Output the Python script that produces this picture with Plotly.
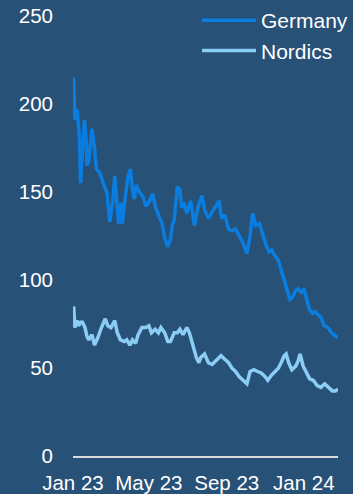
import plotly.graph_objects as go

germany_dates = [
    "2023-01-02", "2023-01-04", "2023-01-07", "2023-01-08", "2023-01-11", "2023-01-13",
    "2023-01-16", "2023-01-19", "2023-01-22", "2023-01-23", "2023-01-26", "2023-01-31",
    "2023-02-04", "2023-02-07", "2023-02-12", "2023-02-15", "2023-02-19", "2023-02-24",
    "2023-02-28", "2023-03-05", "2023-03-08", "2023-03-11", "2023-03-14", "2023-03-18",
    "2023-03-20", "2023-03-24", "2023-03-29", "2023-04-02", "2023-04-05", "2023-04-08",
    "2023-04-11", "2023-04-16", "2023-04-22", "2023-04-26", "2023-05-01", "2023-05-07",
    "2023-05-11", "2023-05-16", "2023-05-22", "2023-05-26", "2023-05-31", "2023-06-04",
    "2023-06-07", "2023-06-10", "2023-06-15", "2023-06-19", "2023-06-22", "2023-06-25",
    "2023-06-30", "2023-07-06", "2023-07-12", "2023-07-18", "2023-07-24", "2023-07-28",
    "2023-08-03", "2023-08-08", "2023-08-14", "2023-08-20", "2023-08-24", "2023-08-29",
    "2023-09-04", "2023-09-09", "2023-09-15", "2023-09-21", "2023-09-27", "2023-10-03",
    "2023-10-08", "2023-10-12", "2023-10-17", "2023-10-23", "2023-10-27", "2023-11-02",
    "2023-11-07", "2023-11-11", "2023-11-16", "2023-11-22", "2023-11-26", "2023-12-01",
    "2023-12-05", "2023-12-10", "2023-12-14", "2023-12-19", "2023-12-23", "2023-12-28",
    "2024-01-01", "2024-01-06", "2024-01-10", "2024-01-15", "2024-01-19", "2024-01-24",
    "2024-01-28", "2024-02-02", "2024-02-08", "2024-02-14", "2024-02-20", "2024-02-24",
]
germany_values = [
    215, 191, 197, 195, 182, 155,
    174, 191, 179, 165, 168, 186,
    175, 163, 161, 158, 153, 149,
    133, 145, 159, 145, 132, 144,
    132, 145, 159, 163, 151, 146,
    154, 150, 147, 142, 144, 149,
    142, 137, 132, 124, 119, 123,
    131, 134, 153, 151, 141, 144,
    138, 145, 131, 142, 148, 140,
    135, 138, 142, 145, 135, 137,
    129, 128, 129, 125, 121, 115,
    125, 138, 131, 132, 127, 120,
    116, 117, 114, 111, 106, 100,
    96, 89, 90, 94, 95, 93,
    95, 89, 83, 81, 82, 80,
    79, 74, 73, 70, 68, 67,
]

nordics_dates = [
    "2023-01-02", "2023-01-04", "2023-01-07", "2023-01-10", "2023-01-13", "2023-01-16",
    "2023-01-20", "2023-01-23", "2023-01-26", "2023-01-31", "2023-02-04", "2023-02-09",
    "2023-02-15", "2023-02-21", "2023-02-25", "2023-03-02", "2023-03-08", "2023-03-12",
    "2023-03-17", "2023-03-23", "2023-03-27", "2023-04-01", "2023-04-05", "2023-04-10",
    "2023-04-14", "2023-04-20", "2023-04-26", "2023-05-01", "2023-05-05", "2023-05-11",
    "2023-05-16", "2023-05-20", "2023-05-26", "2023-05-31", "2023-06-04", "2023-06-10",
    "2023-06-15", "2023-06-19", "2023-06-24", "2023-06-30", "2023-07-04", "2023-07-09",
    "2023-07-12", "2023-07-15", "2023-07-19", "2023-07-22", "2023-07-28", "2023-08-03",
    "2023-08-09", "2023-08-15", "2023-08-23", "2023-08-29", "2023-09-04", "2023-09-09",
    "2023-09-15", "2023-09-21", "2023-09-27", "2023-10-03", "2023-10-08", "2023-10-14",
    "2023-10-20", "2023-10-26", "2023-11-01", "2023-11-05", "2023-11-11", "2023-11-17",
    "2023-11-22", "2023-11-26", "2023-12-01", "2023-12-04", "2023-12-08", "2023-12-13",
    "2023-12-19", "2023-12-23", "2023-12-26", "2023-12-31", "2024-01-04", "2024-01-10",
    "2024-01-16", "2024-01-22", "2024-01-28", "2024-02-03", "2024-02-09", "2024-02-15",
    "2024-02-20", "2024-02-24",
]
nordics_values = [
    85, 73, 77, 74, 76, 76,
    73, 68, 66, 69, 63, 67,
    73, 78, 74, 73, 77, 70,
    66, 65, 66, 63, 66, 64,
    69, 73, 73, 74, 70, 72,
    70, 73, 70, 65, 65, 70,
    70, 72, 69, 73, 70, 63,
    59, 56, 53, 56, 58, 53,
    52, 54, 57, 55, 53, 50,
    48, 45, 43, 41, 48, 49,
    48, 47, 45, 43, 46, 48,
    50, 53, 57, 58, 53, 49,
    51, 54, 58, 51, 48, 44,
    43, 40, 39, 41, 39, 37,
    37, 38,
]

tick_dates = ["2023-01-01", "2023-05-01", "2023-09-01", "2024-01-01"]
tick_labels = ["Jan 23", "May 23", "Sep 23", "Jan 24"]
y_ticks = [0, 50, 100, 150, 200, 250]

BG = "#285177"
FONT = "Liberation Sans, Arial, sans-serif"

fig = go.Figure()
fig.add_trace(go.Scatter(x=germany_dates, y=germany_values, mode="lines", name="Germany",
                         line=dict(color="#0a7de0", width=3.5)))
fig.add_trace(go.Scatter(x=nordics_dates, y=nordics_values, mode="lines", name="Nordics",
                         line=dict(color="#8ccdf5", width=3.5)))

fig.update_layout(
    width=353, height=494,
    margin=dict(l=73, r=0, t=16, b=38),
    paper_bgcolor=BG, plot_bgcolor=BG,
    font=dict(family=FONT, size=20, color="#ffffff"),
    showlegend=True,
    legend=dict(x=0.468, y=1.037, xanchor="left", yanchor="top",
                bgcolor="rgba(0,0,0,0)", font=dict(size=21, color="#ffffff"),
                itemwidth=54, tracegroupgap=0),
    xaxis=dict(type="date", range=["2023-01-01", "2024-02-24"],
               tickvals=tick_dates, ticktext=tick_labels, tickangle=0,
               showgrid=False, zeroline=False, showline=True,
               linecolor="#dcdcdc", linewidth=2, ticks="",
               ticklabelstandoff=7,
               tickfont=dict(size=20.5, color="#ffffff")),
    yaxis=dict(range=[0, 250], tickvals=y_ticks, showgrid=False, zeroline=False,
               showline=False, ticks="", ticklabelstandoff=19,
               tickfont=dict(size=20.5, color="#ffffff")),
)

fig.write_html("out.html")
